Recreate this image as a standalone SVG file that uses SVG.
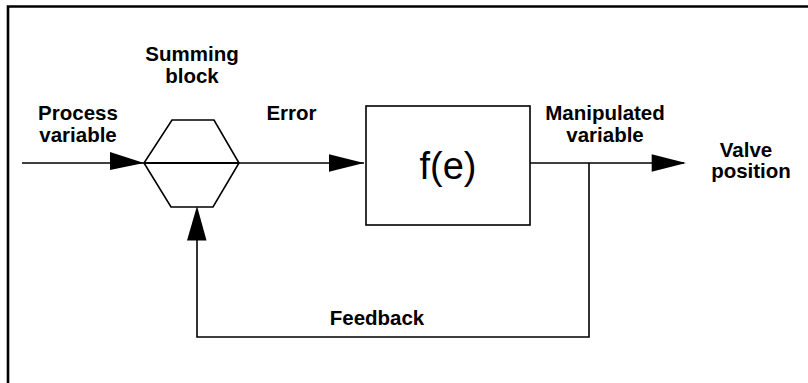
<svg xmlns="http://www.w3.org/2000/svg" width="808" height="383" viewBox="0 0 808 383">
<style>
.lbl{font-family:"Liberation Sans",Arial,sans-serif;font-weight:bold;font-size:20.5px;fill:#000;text-anchor:middle}
.ln{stroke:#000;stroke-width:1.6;fill:none}
.arr{fill:#000;stroke:none}
</style>
<rect width="808" height="383" fill="#fff"/>
<path d="M8,383 V6.5 H808" fill="none" stroke="#000" stroke-width="2.6"/>
<g id="summing">
<polygon points="172,120 214,120 239,163 213,207 171,207 144,163" class="ln"/>
<text class="lbl" x="192" y="60.5">Summing</text>
<text class="lbl" x="192" y="82.5">block</text>
</g>
<g id="function">
<rect x="366" y="106" width="164" height="119" class="ln"/>
<text x="448" y="179" font-family="Liberation Sans,Arial,sans-serif" font-size="38" text-anchor="middle">f(e)</text>
</g>
<g id="labels">
<text class="lbl" x="78" y="120">Process</text>
<text class="lbl" x="78" y="141.5">variable</text>
<text class="lbl" x="291.5" y="120">Error</text>
<text class="lbl" x="605" y="120">Manipulated</text>
<text class="lbl" x="605" y="141.5">variable</text>
<text class="lbl" x="746" y="157">Valve</text>
<text class="lbl" x="751" y="178">position</text>
<text class="lbl" x="377" y="325">Feedback</text>
</g>
<g id="connectors">
<line x1="22" y1="163" x2="144" y2="163" class="ln"/>
<line x1="144" y1="163" x2="239" y2="163" stroke="#000" stroke-width="2.2"/>
<line x1="239" y1="163" x2="364" y2="163" class="ln"/>
<line x1="530" y1="163" x2="684" y2="163" class="ln"/>
<polyline points="589,163 589,337 197,337 197,238" class="ln"/>
<polygon class="arr" points="144,163 110,152 110,170"/>
<polygon class="arr" points="364,163 329,154.3 329,171.7"/>
<polygon class="arr" points="686,163 651.7,154.3 651.7,171.7"/>
<polygon class="arr" points="197,206 187,240.5 206.5,240.5"/>
</g>
</svg>
